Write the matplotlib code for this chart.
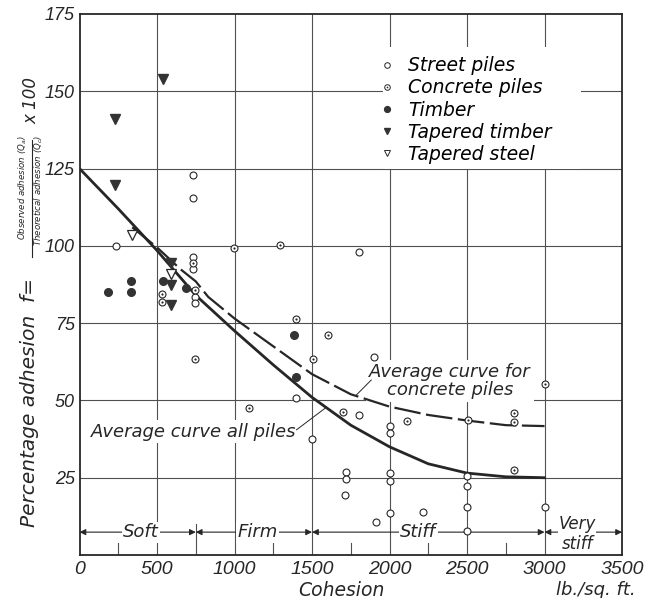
import matplotlib.pyplot as plt
from matplotlib.lines import Line2D
from matplotlib.legend_handler import HandlerTuple
from matplotlib.patches import Rectangle

plt.rcParams['font.family'] = 'DejaVu Sans'
plt.rcParams['font.style'] = 'italic'
plt.rcParams['mathtext.fontset'] = 'dejavusans'

INK = '#262626'
GRID = '#505050'

# === Data (cohesion lb/sq ft, adhesion %) ===
street_x = [235, 734, 734, 734, 734, 742, 742, 1803, 1900, 1397, 1805, 1498,
            2003, 2003, 1719, 1719, 1713, 2003, 2003, 2003, 1913, 2214,
            2500, 2500, 2500, 2500, 3005]
street_y = [100, 123, 115.6, 96.5, 92.5, 83.5, 81.5, 98, 64, 50.7, 45.4, 37.4,
            41.7, 39.4, 26.7, 24.5, 19.4, 26.4, 23.9, 13.7, 10.8, 13.8,
            25.4, 22.3, 15.4, 7.9, 15.6]

concrete_x = [734, 745, 530, 530, 747, 997, 1294, 1397, 1601, 1504, 1094,
              1700, 2111, 2505, 3005, 2805, 2805, 2805]
concrete_y = [94.5, 85.7, 84.4, 81.8, 63.5, 99.2, 100.3, 76.5, 71.2, 63.3, 47.4,
              46.4, 43.4, 43.7, 55.3, 45.8, 43.1, 27.5]

timber_x = [182, 332, 332, 537, 689, 1384, 1397]
timber_y = [85, 85, 88.6, 88.6, 86.5, 71.2, 57.7]

tap_timber_x = [229, 229, 537, 588, 588, 588]
tap_timber_y = [141, 119.8, 154, 94.3, 87.4, 80.8]

tap_steel_x = [337, 588]
tap_steel_y = [103.5, 90.9]

# average curves
all_x = [0, 250, 500, 750, 1000, 1250, 1500, 1750, 2000, 2250, 2500, 2750, 3000]
all_y = [125, 112, 98.5, 84, 72.5, 61.5, 51, 42, 35, 29.5, 26.5, 25.3, 25]

conc_x = [340, 500, 650, 750, 830, 1000, 1250, 1500, 1750, 2000, 2250, 2500, 2750, 3000]
conc_y = [106, 99.5, 92.5, 88.5, 83.5, 76.5, 67.5, 58.5, 52, 48, 45.3, 43.5, 42, 41.7]

x_ticks = [0, 500, 1000, 1500, 2000, 2500, 3000, 3500]
y_ticks = [25, 50, 75, 100, 125, 150, 175]

# consistency bands along the bottom
bands = [(0, 750, 'Soft', 397), (750, 1500, 'Firm', 1146), (1500, 3000, 'Stiff', 2186)]

fig = plt.figure(figsize=(6.47, 5.98), dpi=100)
ax = fig.add_axes([0.1229, 0.0719, 0.8385, 0.9047])
ax.set_xlim(0, 3500)
ax.set_ylim(0, 175)
ax.set_xticks(x_ticks)
ax.set_yticks(y_ticks)
ax.tick_params(length=0, colors=INK)
ax.tick_params(axis='y', pad=3.5, labelsize=13)
ax.tick_params(axis='x', pad=4, labelsize=14)
for lbl in ax.get_xticklabels() + ax.get_yticklabels():
    lbl.set_fontfamily('Liberation Sans')
    lbl.set_fontstyle('italic')
for s in ax.spines.values():
    s.set_linewidth(1.3)
    s.set_color(INK)

for v in x_ticks[1:-1]:
    ax.axvline(v, color=GRID, lw=0.8, zorder=1)
for v in y_ticks[:-1]:
    ax.axhline(v, color=GRID, lw=0.8, zorder=1)
for v in [250, 1250, 1750, 2250, 2750]:
    ax.plot([v, v], [0, 3.8], color=GRID, lw=0.8, zorder=1)
ax.plot([750, 750], [0, 10], color=GRID, lw=0.8, zorder=1)

# white hole in the grid behind the legend
ax.add_patch(Rectangle((1955, 124.7), 1281, 39.6, fc='white', ec='none', zorder=1.5))

# curves
ax.plot(all_x, all_y, color=INK, lw=2.0, zorder=3)
ax.plot(conc_x, conc_y, color=INK, lw=1.6, dashes=(12, 2.5), zorder=3)

# points
mk = dict(ls='none', zorder=4)
ax.plot(street_x, street_y, marker='o', ms=5, mfc='white', mec=INK, mew=0.8, **mk)
ax.plot(concrete_x, concrete_y, marker='o', ms=5, mfc='white', mec=INK, mew=0.8, **mk)
ax.plot(concrete_x, concrete_y, marker='o', ms=1.6, mfc=INK, mec=INK, mew=0, **mk)
ax.plot(timber_x, timber_y, marker='o', ms=5.5, mfc='#333333', mec='#333333', **mk)
ax.plot(tap_timber_x, tap_timber_y, marker='v', ms=7, mfc='#333333', mec='#333333', **mk)
ax.plot(tap_steel_x, tap_steel_y, marker='v', ms=7, mfc='white', mec=INK, mew=0.9, **mk)

# legend
h_street = Line2D([], [], ls='none', marker='o', ms=4, mfc='white', mec=INK, mew=0.7)
h_conc = (Line2D([], [], ls='none', marker='o', ms=4, mfc='white', mec=INK, mew=0.7),
          Line2D([], [], ls='none', marker='o', ms=1.2, mfc=INK, mec=INK, mew=0))
h_timber = Line2D([], [], ls='none', marker='o', ms=4.2, mfc='#333333', mec='#333333')
h_tt = Line2D([], [], ls='none', marker='v', ms=4.8, mfc='#333333', mec='#333333')
h_ts = Line2D([], [], ls='none', marker='v', ms=4.8, mfc='white', mec=INK, mew=0.7)
ax.legend([h_street, h_conc, h_timber, h_tt, h_ts],
          ['Street piles', 'Concrete piles', 'Timber', 'Tapered timber', 'Tapered steel'],
          handler_map={tuple: HandlerTuple(ndivide=1)},
          loc='upper left', bbox_to_anchor=(0.550, 0.922), frameon=False,
          fontsize=13.5, labelspacing=0.17, handletextpad=0.6, handlelength=1.0,
          borderpad=0, borderaxespad=0)

# curve labels with leaders
white = dict(fc='white', ec='none', pad=1.5)
ax.text(735, 39.9, 'Average curve all piles', fontsize=13, ha='center', va='center',
        color=INK, bbox=white, zorder=2)
ax.plot([1400, 1585], [40.5, 47.5], color=INK, lw=0.7, zorder=2.5)
ax.text(2390, 56.3, 'Average curve for\nconcrete piles', fontsize=13, ha='center',
        va='center', color=INK, linespacing=1.0, bbox=dict(fc='white', ec='none', pad=2.5),
        zorder=2)
ax.plot([1882, 1785], [56.6, 51.7], color=INK, lw=0.7, zorder=2.5)

# soil consistency bands
arrow = dict(arrowstyle='<|-|>', lw=0.8, color=INK, mutation_scale=9, shrinkA=0, shrinkB=0)
for a, b, label, cx in bands:
    ax.annotate('', xy=(a, 7.4), xytext=(b, 7.4), arrowprops=arrow, zorder=2)
    ax.text(cx, 7.4, label, fontsize=13, ha='center', va='center', color=INK,
            bbox=dict(fc='white', ec='none', pad=1.0), zorder=2.6)
ax.annotate('', xy=(3000, 7.4), xytext=(3500, 7.4), arrowprops=arrow, zorder=2)
ax.text(3210, 10.0, 'Very', fontsize=12, ha='center', va='center', color=INK,
        bbox=dict(fc='white', ec='none', pad=0.5), zorder=2.6)
ax.text(3210, 3.6, 'stiff', fontsize=12, ha='center', va='center', color=INK, zorder=2.6)

# axis labels
fig.text(341 / 647, 1 - 590 / 598, 'Cohesion', fontsize=13.5, ha='center', va='center',
         color=INK)
fig.text(596 / 647, 1 - 590 / 598, 'lb./sq. ft.', fontsize=13, ha='center', va='center',
         color=INK)

fig.text(30 / 647, 1 - 527 / 598, 'Percentage adhesion  f=', fontsize=14.5, rotation=90,
         ha='center', va='bottom', color=INK)
fig.text(23 / 647, 1 - 188 / 598, r'Observed adhesion ($Q_a$)', fontsize=6.2, rotation=90,
         ha='center', va='center', color=INK)
fig.text(38.5 / 647, 1 - 190 / 598, r'Theoretical adhesion ($Q_c$)', fontsize=6.2,
         rotation=90, ha='center', va='center', color=INK)
fig.add_artist(Line2D([31.5 / 647, 31.5 / 647], [1 - 257 / 598, 1 - 140 / 598], color=INK,
                      lw=0.8))
fig.text(31 / 647, 1 - 100 / 598, 'x 100', fontsize=12, rotation=90, ha='center',
         va='center', color=INK)

fig.savefig('out.png', dpi=100)
